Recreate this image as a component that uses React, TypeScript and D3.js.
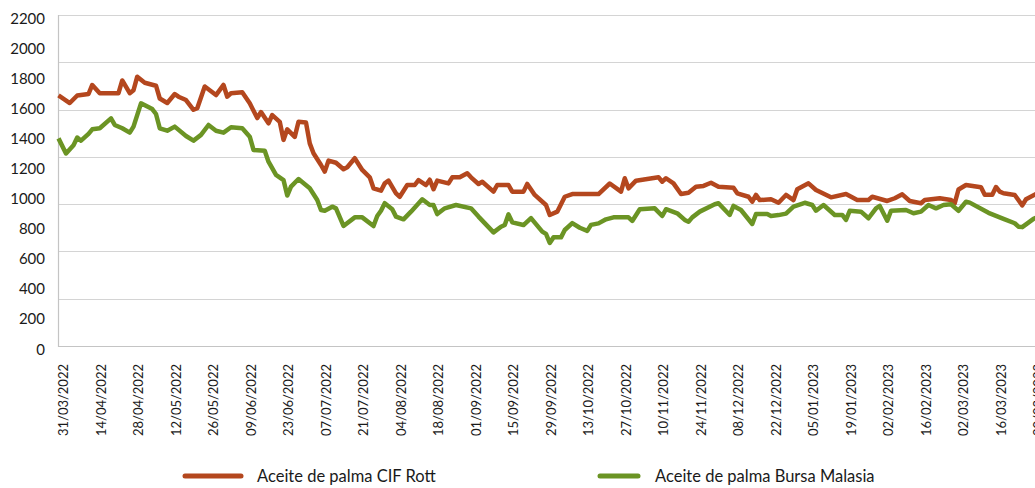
import React from "react";
import * as d3 from "d3";

// tick labels on the category axis, one every 10 trading days
const tickLabels = [
  "31/03/2022", "14/04/2022", "28/04/2022", "12/05/2022", "26/05/2022", "09/06/2022",
  "23/06/2022", "07/07/2022", "21/07/2022", "04/08/2022", "18/08/2022", "01/09/2022",
  "15/09/2022", "29/09/2022", "13/10/2022", "27/10/2022", "10/11/2022", "24/11/2022",
  "08/12/2022", "22/12/2022", "05/01/2023", "19/01/2023", "02/02/2023", "16/02/2023",
  "02/03/2023", "16/03/2023", "30/03/2023",
];
const daysPerTick = 10;

const yTickLabels = [0, 200, 400, 600, 800, 1000, 1200, 1400, 1600, 1800, 2000, 2200];
const gridCount = 7; // major gridlines split the axis in 7 parts

// [trading day since 31/03/2022, USD/t]
const cifRott: [number, number][] = [
  [0, 1665], [3, 1615], [5, 1665], [8, 1675], [9, 1735], [11, 1680], [16, 1680], [17, 1765],
  [19, 1680], [20, 1700], [21, 1790], [23, 1750], [26, 1730], [27, 1645], [29, 1615], [31, 1675],
  [32, 1657], [34, 1635], [36, 1570], [37, 1580], [39, 1725], [42, 1668], [44, 1735], [45, 1657],
  [46, 1680], [49, 1686], [51, 1613], [53, 1515], [54, 1555], [56, 1480], [57, 1535], [59, 1490],
  [60, 1370], [61, 1440], [63, 1390], [64, 1490], [66, 1485], [67, 1347], [68, 1281], [70, 1203],
  [71, 1159], [72, 1232], [74, 1218], [76, 1175], [77, 1188], [79, 1248], [81, 1170], [83, 1121],
  [84, 1048], [86, 1032], [87, 1081], [88, 1099], [90, 1015], [91, 992], [93, 1070], [95, 1070],
  [96, 1103], [98, 1070], [99, 1105], [100, 1042], [101, 1099], [104, 1081], [105, 1121], [107, 1121],
  [109, 1148], [110, 1121], [112, 1077], [113, 1092], [116, 1026], [117, 1070], [120, 1070], [121, 1026],
  [124, 1026], [125, 1077], [127, 1004], [130, 937], [131, 871], [133, 893], [135, 992], [137, 1010],
  [144, 1010], [147, 1080], [150, 1026], [151, 1115], [152, 1048], [154, 1099], [160, 1121], [161, 1092],
  [162, 1115], [164, 1081], [166, 1010], [168, 1019], [170, 1059], [172, 1064], [174, 1085], [176, 1059],
  [180, 1052], [181, 1015], [184, 992], [185, 959], [186, 1004], [187, 970], [190, 975], [192, 952],
  [194, 1004], [196, 970], [197, 1042], [200, 1081], [202, 1037], [206, 988], [210, 1010], [213, 970],
  [216, 970], [217, 992], [221, 964], [223, 982], [225, 1008], [227, 964], [230, 949], [231, 970],
  [235, 982], [238, 970], [239, 949], [240, 1040], [242, 1070], [246, 1055], [247, 1005], [249, 1005],
  [250, 1057], [251, 1026], [252, 1015], [255, 1004], [257, 935], [258, 975], [261, 1015],
];

const bursaMalasia: [number, number][] = [
  [0, 1380], [2, 1280], [4, 1335], [5, 1385], [6, 1365], [8, 1410], [9, 1440], [11, 1447],
  [14, 1513], [15, 1469], [17, 1447], [19, 1418], [20, 1458], [22, 1613], [25, 1575], [26, 1542],
  [27, 1447], [29, 1431], [31, 1458], [34, 1396], [36, 1365], [38, 1403], [40, 1469], [42, 1431],
  [44, 1418], [46, 1454], [49, 1447], [51, 1391], [52, 1303], [55, 1298], [56, 1225], [58, 1137],
  [60, 1103], [61, 1000], [62, 1059], [64, 1110], [67, 1048], [69, 970], [70, 904], [71, 899],
  [73, 926], [74, 915], [76, 798], [79, 855], [81, 855], [84, 797], [85, 864], [86, 899],
  [87, 949], [89, 909], [90, 860], [92, 842], [94, 893], [97, 975], [99, 937], [100, 937],
  [101, 877], [103, 915], [106, 937], [110, 915], [112, 860], [116, 755], [118, 793], [119, 804],
  [120, 875], [121, 822], [124, 804], [126, 850], [128, 790], [129, 760], [130, 745], [131, 685],
  [132, 722], [134, 722], [135, 771], [137, 817], [139, 786], [141, 765], [142, 805], [144, 815],
  [146, 842], [148, 855], [152, 855], [153, 831], [155, 909], [159, 915], [161, 864], [162, 909],
  [165, 882], [167, 838], [168, 826], [169, 855], [171, 893], [175, 942], [176, 949], [179, 871],
  [180, 931], [182, 904], [185, 811], [186, 877], [189, 877], [190, 864], [192, 870], [194, 880],
  [196, 926], [199, 952], [201, 937], [202, 899], [204, 937], [207, 871], [209, 871], [210, 838],
  [211, 899], [214, 893], [216, 849], [218, 915], [219, 931], [221, 833], [222, 899], [226, 904],
  [228, 882], [230, 893], [232, 937], [234, 915], [236, 937], [238, 942], [240, 899], [242, 959],
  [243, 953], [248, 885], [252, 845], [255, 816], [256, 793], [257, 790], [260, 845], [261, 855],
];

const series = [
  { name: "Aceite de palma CIF Rott", data: cifRott, color: "#B4471E" },
  { name: "Aceite de palma Bursa Malasia", data: bursaMalasia, color: "#6B9424" },
];

const width = 1035;
const height = 488;
const font = "Lato, 'Open Sans', sans-serif";

export default function App() {
  const lastDay = (tickLabels.length - 1) * daysPerTick;
  const x = d3.scaleLinear().domain([0, lastDay]).range([58.5, 1033.5]);
  const y = d3.scaleLinear().domain([0, 2200]).range([346, 15]);

  const gridValues = d3.range(gridCount + 1).map((i) => (2200 / gridCount) * i);

  const line = d3
    .line<[number, number]>()
    .x((d) => x(d[0]))
    .y((d) => y(d[1]));

  const legendX = [183, 598];
  const legendY = 476;

  return (
    <svg
      width={width}
      height={height}
      style={{ position: "absolute", left: 0, top: 0, background: "#fff" }}
      fontFamily={font}
    >
      {/* gridlines */}
      {gridValues.map((v, i) => (
        <line
          key={i}
          x1={x(0)}
          x2={width}
          y1={Math.round(y(v)) + 0.5}
          y2={Math.round(y(v)) + 0.5}
          stroke={i === 0 ? "#c4c4c4" : "#d4d4d4"}
          strokeWidth={1.2}
        />
      ))}
      <line x1={x(0)} x2={x(0)} y1={y(2200)} y2={y(0) + 1} stroke="#c4c4c4" strokeWidth={1.2} />

      {/* y labels */}
      {yTickLabels.map((v) => (
        <text key={v} x={45} y={y(v) + 2.5} textAnchor="end" dominantBaseline="central" fontSize={15} fill="#1a1a1a">
          {v}
        </text>
      ))}

      {/* x labels */}
      {tickLabels.map((t, i) => (
        <text
          key={t}
          transform={`translate(${x(i * daysPerTick) + 5},364) rotate(-90)`}
          textAnchor="end"
          dy="0.35em"
          fontSize={13}
          fill="#1a1a1a"
        >
          {t}
        </text>
      ))}

      {/* series */}
      {series.map((s) => (
        <path
          key={s.name}
          d={line(s.data) || ""}
          fill="none"
          stroke={s.color}
          strokeWidth={4.5}
          strokeLinejoin="round"
        />
      ))}

      {/* legend */}
      {series.map((s, i) => (
        <g key={s.name} transform={`translate(${legendX[i]},${legendY})`}>
          <line x1={2} x2={i === 0 ? 58 : 40} y1={0} y2={0} stroke={s.color} strokeWidth={5} strokeLinecap="round" />
          <text x={i === 0 ? 74 : 57} y={0} dominantBaseline="central" fontSize={16.5} fill="#1a1a1a">
            {s.name}
          </text>
        </g>
      ))}
    </svg>
  );
}
